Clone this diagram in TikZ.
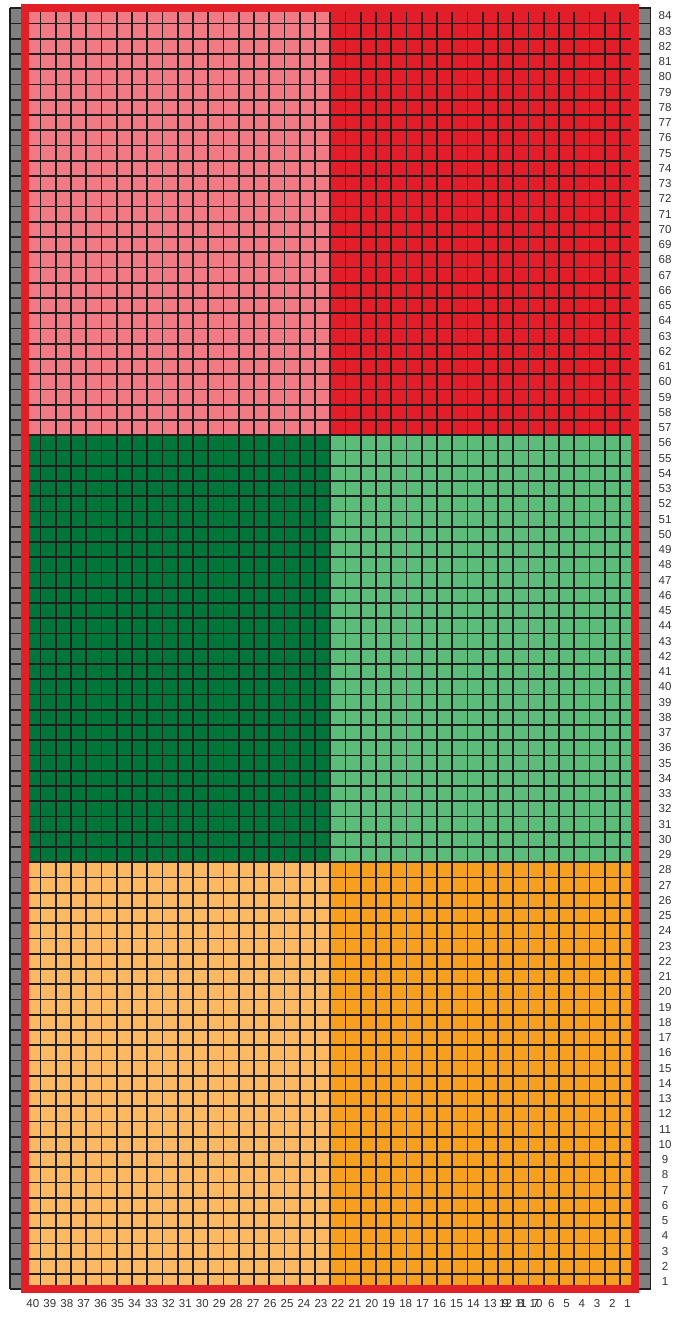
\documentclass[tikz,border=0pt]{standalone}
\usepackage{fontspec}
\setmainfont{Liberation Sans}
\usepackage{tikz}
\usetikzlibrary{positioning}
\usepackage{xcolor}
\definecolor{pinkpart}{HTML}{F27A84}
\definecolor{redpart}{HTML}{E31E2A}
\definecolor{darkgreen}{HTML}{00763B}
\definecolor{lightgreen}{HTML}{5BBD79}
\definecolor{lightorange}{HTML}{FDB862}
\definecolor{orangepart}{HTML}{F7A01F}
\definecolor{edgegray}{HTML}{808080}
\definecolor{framered}{HTML}{E01F27}
\tikzstyle{gridline} = [draw=black!88, line width=1.3pt]
\tikzstyle{frame} = [draw=framered, line width=6.2pt]
\tikzstyle{numlabel} = [font=\fontsize{8.6}{10}\selectfont, text=black!80, inner sep=0pt]

\begin{document}
\begin{tikzpicture}[x=0.4cm, y=0.4cm]
    \useasboundingbox (-1.656,-1.95) rectangle (42.48,84.54);

    % Colour blocks
    \fill[pinkpart] (0,56) rectangle (20,84);
    \fill[redpart] (20,56) rectangle (40,84);
    \fill[darkgreen] (0,28) rectangle (20,56);
    \fill[lightgreen] (20,28) rectangle (40,56);
    \fill[lightorange] (0,0) rectangle (20,28);
    \fill[orangepart] (20,0) rectangle (40,28);

    % Gray edge columns
    \fill[edgegray] (-1,0) rectangle (0,84);
    \fill[edgegray] (40,0) rectangle (41,84);

    % Grid
    \foreach \c in {-1,...,41}
        \draw[gridline] (\c,0) -- (\c,84);
    \foreach \r in {0,...,84}
        \draw[gridline] (-1,\r) -- (41,\r);

    % Red frame
    \draw[frame] (0,0) rectangle (40,84);

    % Row numbers
    \foreach \r in {1,...,84}
        \node[numlabel] (row\r) at (41.95,\r-0.5) {\r};

    % Column numbers
    \foreach \n in {1,...,9}
        \node[numlabel] (col\n) at (40.5-\n,-0.94) {\n};
    \foreach \n in {10,11,12}
        \node[numlabel] (col\n) at (43.5-\n,-0.94) {\n};
    \foreach \n in {13,...,40}
        \node[numlabel] (col\n) at ({30.5-(\n-13)*30/27},-0.94) {\n};
\end{tikzpicture}
\end{document}
